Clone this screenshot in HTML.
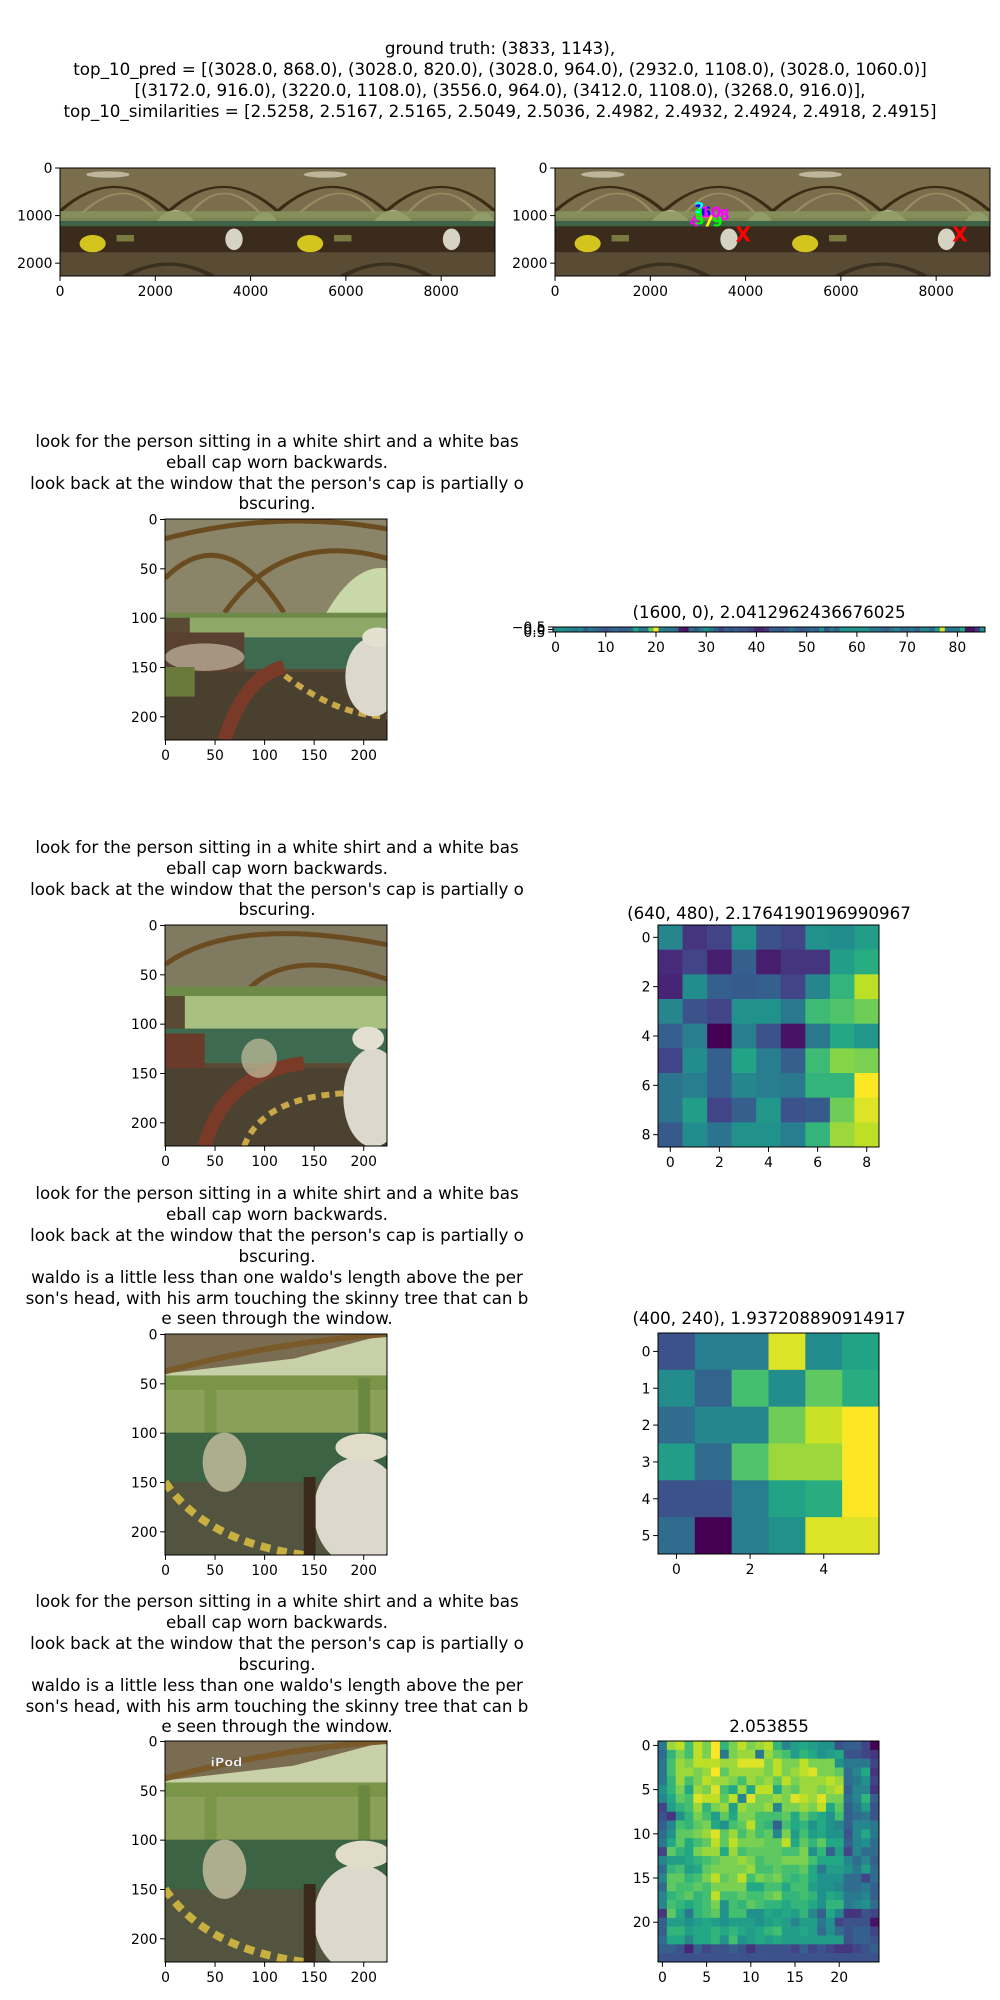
<!DOCTYPE html>
<html><head><meta charset="utf-8">
<style>
html,body{margin:0;padding:0;background:#fff;}
svg{display:block;font-family:"DejaVu Sans","Liberation Sans",sans-serif;}
</style></head>
<body>
<svg id="fig" width="1000" height="2000" viewBox="0 0 1000 2000" xmlns="http://www.w3.org/2000/svg">
<rect width="1000" height="2000" fill="#fff"/>
<g font-size="16.7" text-anchor="middle" fill="#000">
<text x="500" y="54">ground truth: (3833, 1143),</text>
<text x="500" y="75">top_10_pred = [(3028.0, 868.0), (3028.0, 820.0), (3028.0, 964.0), (2932.0, 1108.0), (3028.0, 1060.0)]</text>
<text x="500" y="96">[(3172.0, 916.0), (3220.0, 1108.0), (3556.0, 964.0), (3412.0, 1108.0), (3268.0, 916.0)],</text>
<text x="500" y="117">top_10_similarities = [2.5258, 2.5167, 2.5165, 2.5049, 2.5036, 2.4982, 2.4932, 2.4924, 2.4918, 2.4915]</text>
</g>
<g font-size="16.7" text-anchor="middle">
<text x="277" y="447">look for the person sitting in a white shirt and a white bas</text>
<text x="277" y="468">eball cap worn backwards.</text>
<text x="277" y="489">look back at the window that the person's cap is partially o</text>
<text x="277" y="509">bscuring.</text>
</g>
<g font-size="16.7" text-anchor="middle">
<text x="277" y="853">look for the person sitting in a white shirt and a white bas</text>
<text x="277" y="874">eball cap worn backwards.</text>
<text x="277" y="895">look back at the window that the person's cap is partially o</text>
<text x="277" y="915">bscuring.</text>
</g>
<g font-size="16.7" text-anchor="middle">
<text x="277" y="1199">look for the person sitting in a white shirt and a white bas</text>
<text x="277" y="1220">eball cap worn backwards.</text>
<text x="277" y="1241">look back at the window that the person's cap is partially o</text>
<text x="277" y="1262">bscuring.</text>
<text x="277" y="1283">waldo is a little less than one waldo's length above the per</text>
<text x="277" y="1304">son's head, with his arm touching the skinny tree that can b</text>
<text x="277" y="1324">e seen through the window.</text>
</g>
<g font-size="16.7" text-anchor="middle">
<text x="277" y="1607">look for the person sitting in a white shirt and a white bas</text>
<text x="277" y="1628">eball cap worn backwards.</text>
<text x="277" y="1649">look back at the window that the person's cap is partially o</text>
<text x="277" y="1670">bscuring.</text>
<text x="277" y="1691">waldo is a little less than one waldo's length above the per</text>
<text x="277" y="1712">son's head, with his arm touching the skinny tree that can b</text>
<text x="277" y="1732">e seen through the window.</text>
</g>
<g font-size="16.7" text-anchor="middle">
<text x="769" y="618">(1600, 0), 2.0412962436676025</text>
<text x="769" y="919">(640, 480), 2.1764190196990967</text>
<text x="769" y="1324">(400, 240), 1.937208890914917</text>
<text x="769" y="1732">2.053855</text>
</g>
</svg>
<script>
// ---- data ----
const panoXTicks = [0, 2000, 4000, 6000, 8000];
const panoYTicks = [0, 1000, 2000];
const cropTicks = [0, 50, 100, 150, 200];
const predX = [3028, 3028, 3028, 2932, 3028, 3172, 3220, 3556, 3412, 3268];
const predY = [868, 820, 964, 1108, 1060, 916, 1108, 964, 1108, 916];
const predLabels = ['1','2','3','4','5','6','7','8','9','10'];
const gtMarksX = [3950, 8500];
const gtMarksY = [1400, 1400];
const stripValues = [.45,.5,.45,.45,.4,.45,.3,.4,.35,.3,
 .25,.3,.35,.3,.3,.35,.6,.4,.4,.75,
 1,.45,.4,.4,.35,.08,.05,.35,.3,.4,
 .5,.4,.3,.2,.3,.25,.3,.25,.25,.2,
 .1,.1,.15,.3,.3,.25,.3,.4,.3,.25,
 .3,.35,.3,.5,.25,.4,.3,.5,.5,.5,
 .5,.5,.5,.4,.4,.35,.3,.4,.45,.35,
 .35,.4,.3,.45,.45,.35,.55,.95,.4,.4,
 .4,.6,.05,.05,.15,.5];
const stripXTicks = [0,10,20,30,40,50,60,70,80];
const stripYTicks = ['\u22120.5','0.0','0.5'];
const heat9 = [
 [.45,.15,.2,.5,.25,.2,.5,.48,.55],
 [.12,.2,.08,.3,.08,.15,.15,.55,.62],
 [.1,.48,.3,.28,.3,.2,.45,.65,.9],
 [.45,.25,.2,.5,.5,.4,.68,.72,.78],
 [.3,.42,0,.42,.25,.05,.4,.6,.52],
 [.2,.48,.3,.58,.42,.3,.68,.82,.8],
 [.38,.42,.3,.45,.42,.4,.65,.65,1],
 [.38,.55,.2,.3,.52,.25,.28,.78,.95],
 [.28,.48,.38,.5,.5,.42,.65,.85,.9]];
const heat9Ticks = [0,2,4,6,8];
const heat6 = [
 [.25,.42,.42,.95,.48,.58],
 [.48,.32,.7,.48,.75,.62],
 [.35,.45,.45,.78,.92,1],
 [.55,.35,.72,.85,.85,1],
 [.25,.25,.42,.58,.62,1],
 [.35,0,.42,.5,.95,.95]];
const heat6XTicks = [0,2,4];
const heat6YTicks = [0,1,2,3,4,5];
const heat25 = [
 [.4,.85,.9,.7,.9,.8,1,.65,.8,.9,.8,.85,.9,.65,.45,.55,.6,.55,.5,.5,.25,.3,.3,.2,0],
 [.35,.65,.8,.7,.9,.8,1,.4,.8,.85,.85,.4,.85,.75,.7,.55,.65,.6,.5,.55,.6,.25,.25,.2,.15],
 [.4,.7,.85,.8,.9,.9,.9,.85,.85,.95,.95,.95,.8,.9,.8,.8,.9,.8,.8,.8,.5,.4,.4,.4,.2],
 [.4,.7,.85,.85,.8,.85,1,.75,.85,.85,.85,.85,.8,.9,.8,.85,.9,.95,.8,.8,.75,.35,.45,.6,.15],
 [.4,.65,.85,.7,.8,.9,.85,.85,.8,.7,.85,.8,.85,.75,.9,.8,.85,.85,.85,.9,.85,.35,.4,.5,.2],
 [.5,.65,.8,.6,.85,.8,.95,.7,.6,.85,.6,.9,.9,.6,.8,.75,.85,.85,.8,.85,.9,.3,.45,.45,.15],
 [.45,.6,.75,.7,.95,.9,.9,.75,.9,.45,.95,.8,.8,.85,.8,.95,.9,.85,.95,.8,.8,.35,.45,.65,.3],
 [.2,.55,.65,.7,.85,.65,.8,.85,.55,.85,.8,.8,.85,.45,.8,.8,.85,.8,.9,.6,.75,.3,.4,.55,.25],
 [.25,.15,.5,.65,.8,.7,.55,.75,.6,.8,.8,.7,.7,.7,.75,.6,.75,.65,.6,.5,.7,.3,.35,.4,.25],
 [.3,.45,.7,.65,.75,.8,.6,.5,.7,.75,.9,.7,.65,.3,.7,.6,.65,.5,.6,.5,.45,.3,.45,.45,.4],
 [.35,.5,.75,.75,.8,.85,.95,.75,.85,.7,.8,.7,.75,.45,.8,.55,.7,.55,.6,.5,.5,.25,.45,.6,.4],
 [.4,.6,.75,.6,.7,.75,.9,.75,.9,.8,.8,.8,.75,.75,.9,.6,.75,.65,.75,.6,.6,.3,.45,.5,.35],
 [.2,.75,.65,.6,.8,.85,.85,.6,.85,.7,.75,.75,.75,.75,.7,.7,.8,.5,.65,.3,.55,.2,.45,.35,.35],
 [.45,.55,.55,.6,.65,.7,.75,.8,.8,.85,.8,.7,.75,.75,.8,.8,.8,.7,.6,.6,.6,.45,.35,.45,.3],
 [.35,.65,.7,.55,.6,.75,.8,.8,.8,.8,.85,.7,.7,.75,.7,.7,.75,.6,.4,.55,.55,.5,.4,.55,.35],
 [.45,.75,.75,.65,.7,.8,.9,.75,.8,.9,.7,.8,.75,.8,.7,.65,.7,.6,.5,.5,.5,.35,.35,.2,.35],
 [.35,.75,.7,.7,.75,.7,.8,.8,.8,.8,.6,.6,.7,.7,.6,.7,.7,.55,.5,.5,.45,.35,.35,.4,.3],
 [.45,.65,.7,.75,.65,.7,.9,.7,.7,.75,.7,.7,.75,.8,.65,.65,.7,.65,.5,.6,.55,.4,.4,.45,.3],
 [.45,.7,.65,.6,.65,.7,.8,.5,.7,.65,.75,.7,.65,.65,.6,.65,.65,.6,.5,.65,.65,.4,.45,.5,.35],
 [.15,.75,.6,.4,.65,.7,.75,.5,.7,.7,.5,.5,.6,.55,.6,.55,.65,.45,.3,.6,.45,.15,.15,.25,.2],
 [.3,.55,.55,.5,.55,.6,.55,.5,.55,.55,.55,.5,.55,.6,.55,.45,.55,.55,.4,.5,.2,.25,.25,.25,.05],
 [.3,.65,.65,.55,.6,.6,.65,.6,.65,.6,.55,.6,.65,.7,.55,.55,.6,.55,.35,.5,.35,.25,.3,.3,.2],
 [.35,.6,.6,.45,.6,.6,.65,.5,.7,.5,.55,.6,.55,.6,.55,.55,.55,.55,.55,.55,.55,.25,.3,.3,.25],
 [.3,.3,.25,.1,.3,.2,.25,.25,.3,.25,.15,.25,.25,.25,.25,.2,.3,.2,.25,.2,.15,.15,.2,.25,.3],
 [.25,.25,.25,.25,.25,.25,.25,.25,.25,.25,.25,.25,.25,.25,.25,.25,.25,.25,.25,.25,.25,.25,.25,.25,.25]];
const heat25Ticks = [0,5,10,15,20];

// ---- helpers ----
const NS = 'http://www.w3.org/2000/svg';
const fig = document.getElementById('fig');
function el(tag, attrs, parent) {
  const e = document.createElementNS(NS, tag);
  for (const k in attrs) e.setAttribute(k, attrs[k]);
  (parent || fig).appendChild(e);
  return e;
}
const VIR = ['#440154','#482475','#414487','#355f8d','#2a788e','#21918c','#22a884','#44bf70','#7ad151','#bddf26','#fde725'];
function hex(h){return [parseInt(h.substr(1,2),16),parseInt(h.substr(3,2),16),parseInt(h.substr(5,2),16)];}
function viridis(v){
  v = Math.max(0, Math.min(1, v));
  const p = v*10, i = Math.min(9, Math.floor(p)), f = p - i;
  const a = hex(VIR[i]), b = hex(VIR[i+1]);
  return 'rgb(' + a.map((c,k)=>Math.round(c+(b[k]-c)*f)).join(',') + ')';
}
function makeAxes(name, x, y, w, h, x0, x1, y0, y1) {
  const g = el('g', {});
  
  
  return {g, x, y, w, h, x0, x1, y0, y1,
    sx(v){return x + (v - x0)/(x1 - x0)*w;},
    sy(v){return y + (v - y0)/(y1 - y0)*h;}};
}
function frame(ax, xt, yt, yLabels) {
  const g = ax.g;
  el('rect', {x:ax.x, y:ax.y, width:ax.w, height:ax.h, fill:'none', stroke:'#000', 'stroke-width':1}, g);
  const xg = el('g', {'font-size':13.9, 'text-anchor':'middle'}, g);
  
  
  xt.forEach(t => {
    const px = ax.sx(t);
    el('line', {x1:px, x2:px, y1:ax.y+ax.h, y2:ax.y+ax.h+4.9, stroke:'#000', 'stroke-width':1}, xg);
    el('text', {x:px, y:ax.y+ax.h+20}, xg).textContent = t;
  });
  const yg = el('g', {'font-size':13.9, 'text-anchor':'end'}, g);
  
  
  yt.forEach((t, i) => {
    const py = ax.sy(t);
    el('line', {x1:ax.x-4.9, x2:ax.x, y1:py, y2:py, stroke:'#000', 'stroke-width':1}, yg);
    el('text', {x:ax.x-7.5, y:py+5}, yg).textContent = yLabels ? yLabels[i] : t;
  });
}
let clipN = 0;
function clipG(ax) {
  const id = 'c' + (clipN++);
  const cp = el('clipPath', {id});
  el('rect', {x:ax.x, y:ax.y, width:ax.w, height:ax.h}, cp);
  return el('g', {'clip-path':'url(#'+id+')'}, ax.g);
}

// ---- panorama ----
function panoTile(g) {
  // tile drawn in 0..100 x 0..100 units
  el('rect', {x:0, y:0, width:100, height:100, fill:'#4e4230'}, g);
  el('rect', {x:0, y:0, width:100, height:46, fill:'#7a6e4c'}, g);
  el('path', {d:'M0,40 Q25,-5 50,40 Q75,-5 100,40', fill:'none', stroke:'#3a2c14', 'stroke-width':2}, g);
  el('path', {d:'M10,42 Q30,5 45,42 M60,42 Q75,5 92,42', fill:'none', stroke:'#9a8a60', 'stroke-width':1.5}, g);
  el('ellipse', {cx:22, cy:6, rx:10, ry:3, fill:'#d8d4c0', opacity:.7}, g);
  el('path', {d:'M44,50 Q53,28 62,50 Z', fill:'#b8bf90'}, g);
  el('path', {d:'M88,50 Q95,32 100,50 Z', fill:'#b0b888'}, g);
  el('rect', {x:0, y:40, width:100, height:10, fill:'#8a9660', opacity:.8}, g);
  el('rect', {x:0, y:49, width:100, height:8, fill:'#3e6448'}, g);
  el('rect', {x:0, y:54, width:100, height:26, fill:'#3a2b1c'}, g);
  el('ellipse', {cx:15, cy:70, rx:6, ry:8, fill:'#d4c41e'}, g);
  el('rect', {x:26, y:62, width:8, height:6, fill:'#7a7a40'}, g);
  el('ellipse', {cx:80, cy:66, rx:4, ry:10, fill:'#d6d2c4'}, g);
  el('rect', {x:0, y:78, width:100, height:22, fill:'#5a4c34'}, g);
  el('path', {d:'M30,100 Q50,78 70,100', fill:'none', stroke:'#3a3020', 'stroke-width':3}, g);
}
function drawPano(name, x) {
  const ax = makeAxes(name, x, 168, 435, 108, -0.5, 9130, -0.5, 2270);
  const cg = clipG(ax);
  const tileW = 4565;
  [0, 1].forEach(k => {
    const tg = el('g', {transform:'translate(' + ax.sx(k*tileW) + ',' + ax.y + ') scale(' + (ax.w*tileW/9130.5/100) + ',' + (ax.h/100) + ')'}, cg);
    panoTile(tg);
  });
  frame(ax, panoXTicks, panoYTicks);
  return {ax, cg};
}
drawPano('panorama-plain', 60);
const p2 = drawPano('panorama-predictions', 555);
const predColors = ['#0000ff','#00ffff','#00ff00','#ff00ff','#00ff00','#0000ff','#ffff00','#ff00ff','#00ff00','#ff00ff'];
predX.forEach((v, i) => {
  const t = el('text', {x:p2.ax.sx(v), y:p2.ax.sy(predY[i])+6, fill:predColors[i], 'font-size':15, 'font-weight':'bold', 'text-anchor':'middle'}, p2.cg);
  
  
  t.textContent = predLabels[i];
});
gtMarksX.forEach((v, i) => {
  const t = el('text', {x:p2.ax.sx(v), y:p2.ax.sy(gtMarksY[i])+7, fill:'#ff0000', 'font-size':20, 'font-weight':'bold', 'text-anchor':'middle'}, p2.cg);
  
  
  t.textContent = 'X';
});

// ---- crop photos ----
function cropA(g) { // wide view with ceiling
  el('rect', {x:0, y:0, width:224, height:224, fill:'#5a4a34'}, g);
  el('rect', {x:0, y:0, width:224, height:100, fill:'#8a8468'}, g);
  el('path', {d:'M0,60 Q60,0 120,95 M60,95 Q120,10 224,40 M0,20 Q112,-10 224,10', fill:'none', stroke:'#6a4c20', 'stroke-width':5}, g);
  el('path', {d:'M160,100 Q190,45 224,50 L224,100 Z', fill:'#c8d8a8'}, g);
  el('rect', {x:25, y:97, width:199, height:28, fill:'#8ea868'}, g);
  el('rect', {x:0, y:95, width:224, height:5, fill:'#6e8a48'}, g);
  el('rect', {x:60, y:120, width:164, height:32, fill:'#3e6a50'}, g);
  el('rect', {x:0, y:115, width:80, height:45, fill:'#5a4030'}, g);
  el('ellipse', {cx:40, cy:140, rx:40, ry:14, fill:'#d8d0b8', opacity:.6}, g);
  el('rect', {x:0, y:155, width:224, height:69, fill:'#4a4030'}, g);
  el('path', {d:'M110,150 Q170,200 224,200', fill:'none', stroke:'#c8a848', 'stroke-width':6, 'stroke-dasharray':'8 6'}, g);
  el('path', {d:'M60,224 Q80,160 120,150', fill:'none', stroke:'#7a3a28', 'stroke-width':14}, g);
  el('ellipse', {cx:210, cy:160, rx:28, ry:40, fill:'#dcd8cc'}, g);
  el('ellipse', {cx:215, cy:120, rx:16, ry:10, fill:'#e4e0d0'}, g);
  el('rect', {x:0, y:150, width:30, height:30, fill:'#6a7a3a'}, g);
}
function cropB(g) { // slightly lower view
  el('rect', {x:0, y:0, width:224, height:224, fill:'#5a4a34'}, g);
  el('rect', {x:0, y:0, width:224, height:70, fill:'#807a60'}, g);
  el('path', {d:'M0,40 Q70,-10 224,20 M80,70 Q120,20 224,55', fill:'none', stroke:'#6a4c20', 'stroke-width':5}, g);
  el('rect', {x:0, y:62, width:224, height:10, fill:'#6e8a48'}, g);
  el('rect', {x:20, y:72, width:204, height:35, fill:'#a8c080'}, g);
  el('rect', {x:0, y:105, width:224, height:35, fill:'#3e6a50'}, g);
  el('rect', {x:0, y:110, width:40, height:50, fill:'#6a3a2a'}, g);
  el('rect', {x:0, y:145, width:224, height:79, fill:'#4c4232'}, g);
  el('path', {d:'M40,224 Q60,150 140,140', fill:'none', stroke:'#7a3a28', 'stroke-width':14}, g);
  el('path', {d:'M80,224 Q100,170 200,170', fill:'none', stroke:'#c8a848', 'stroke-width':6, 'stroke-dasharray':'8 6'}, g);
  el('ellipse', {cx:95, cy:135, rx:18, ry:20, fill:'#c8c0a0', opacity:.7}, g);
  el('ellipse', {cx:210, cy:175, rx:30, ry:50, fill:'#dcd8cc'}, g);
  el('ellipse', {cx:205, cy:115, rx:16, ry:12, fill:'#e4e0d0'}, g);
}
function cropC(g) { // window view
  el('rect', {x:0, y:0, width:224, height:224, fill:'#4a4432'}, g);
  el('rect', {x:0, y:0, width:224, height:60, fill:'#c8d0a8'}, g);
  el('path', {d:'M0,0 L224,0 L130,25 L0,40 Z', fill:'#7a6c50'}, g);
  el('path', {d:'M0,38 Q100,10 224,0', fill:'none', stroke:'#7a5a28', 'stroke-width':6}, g);
  el('rect', {x:0, y:42, width:224, height:15, fill:'#7a9448'}, g);
  el('rect', {x:0, y:57, width:224, height:45, fill:'#8aa058'}, g);
  el('rect', {x:40, y:55, width:12, height:50, fill:'#7a9448'}, g);
  el('rect', {x:195, y:45, width:12, height:60, fill:'#6a8840'}, g);
  el('rect', {x:0, y:100, width:224, height:55, fill:'#3c6444'}, g);
  el('rect', {x:0, y:150, width:224, height:74, fill:'#525440'}, g);
  el('path', {d:'M0,150 Q40,210 140,224', fill:'none', stroke:'#c8b040', 'stroke-width':8, 'stroke-dasharray':'10 7'}, g);
  el('ellipse', {cx:60, cy:130, rx:22, ry:30, fill:'#c8c0a0', opacity:.8}, g);
  el('ellipse', {cx:195, cy:180, rx:45, ry:55, fill:'#dcd8cc'}, g);
  el('ellipse', {cx:200, cy:115, rx:28, ry:14, fill:'#e0dcc8'}, g);
  el('rect', {x:140, y:145, width:12, height:79, fill:'#3a2a1c'}, g);
}
function drawCrop(name, y, fn, extra) {
  const ax = makeAxes(name, 165, y, 222, 221, -0.5, 223.5, -0.5, 223.5);
  const cg = clipG(ax);
  const tg = el('g', {transform:'translate(' + ax.x + ',' + ax.y + ') scale(' + (ax.w/224) + ',' + (ax.h/224) + ')'}, cg);
  fn(tg);
  if (extra) extra(tg);
  frame(ax, cropTicks, cropTicks);
}
drawCrop('crop-image-1', 519, cropA);
drawCrop('crop-image-2', 925, cropB);
drawCrop('crop-image-3', 1334, cropC);
drawCrop('crop-image-4', 1741, cropC, g => {
  const t = el('text', {x:62, y:26, fill:'#f4f4f4', 'font-size':13, 'font-weight':'bold', 'text-anchor':'middle', stroke:'#555', 'stroke-width':.4}, g);
  
  
  t.textContent = 'iPod';
});

// ---- heatmaps ----
function drawHeat(name, x, y, w, h, data, xt, yt, yLabels) {
  const nr = data.length, nc = data[0].length;
  const ax = makeAxes(name, x, y, w, h, -0.5, nc - 0.5, -0.5, nr - 0.5);
  data.forEach((row, r) => row.forEach((v, c) => {
    const x0 = ax.sx(c - 0.5), x1 = ax.sx(c + 0.5), y0 = ax.sy(r - 0.5), y1 = ax.sy(r + 0.5);
    const cell = el('rect', {x:x0, y:y0, width:x1 - x0 + 0.3, height:y1 - y0 + 0.3, fill:viridis(v)}, ax.g);
    
    
  }));
  frame(ax, xt, yt, yLabels);
  return ax;
}
drawHeat('similarity-strip', 553, 627, 432, 5, [stripValues], stripXTicks, [-0.5, 0, 0.5], stripYTicks);
drawHeat('similarity-heatmap-9x9', 658, 925, 221, 222, heat9, heat9Ticks, heat9Ticks);
drawHeat('similarity-heatmap-6x6', 658, 1333, 221, 221, heat6, heat6XTicks, heat6YTicks);
drawHeat('similarity-heatmap-25x25', 658, 1741, 221, 221, heat25, heat25Ticks, heat25Ticks);
</script>
</body></html>
